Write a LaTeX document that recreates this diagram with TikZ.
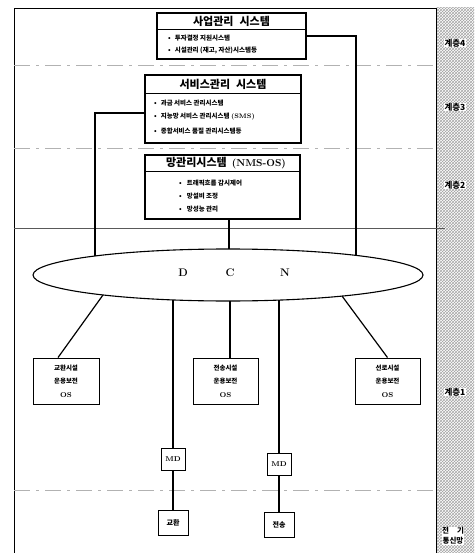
\documentclass[tikz,border=0pt]{standalone}
\usepackage{fontspec}
\newfontfamily\kr{Noto Sans CJK KR}
\usetikzlibrary{patterns,shapes.geometric}
\begin{document}
\begin{tikzpicture}[x=1pt,y=-1pt,
  sbox/.style={draw, line width=1.1pt, inner sep=0pt},
  conn/.style={line width=1.2pt},
  ttl/.style={font=\kr\bfseries\fontsize{11}{13}\selectfont, inner sep=0pt},
  itm/.style={font=\kr\bfseries\fontsize{6.5}{8}\selectfont, anchor=west, inner sep=0pt},
  sepline/.style={line width=0.8pt},
  layerline/.style={gray!60, line width=0.5pt, dash pattern=on 16pt off 6pt on 3pt off 6pt},
  lbl/.style={font=\kr\bfseries\fontsize{8.5}{10}\selectfont, inner sep=0pt},
  smallbox/.style={draw, line width=0.9pt, inner sep=0pt, align=center},
  ostext/.style={font=\kr\bfseries\fontsize{6.5}{13.5}\selectfont},
  dcnletter/.style={font=\rmfamily\bfseries\fontsize{11}{13}\selectfont, inner sep=0pt}
]
\useasboundingbox (0,0) rectangle (474,553);
% hatched strip
\fill[pattern=crosshatch, pattern color=gray!70] (436,8) rectangle (474,553);
% frame
\draw[line width=0.7pt] (14,553) -- (14,8) -- (436,8);
\draw[line width=0.6pt] (436,8) -- (436,553);
% layer separators
\draw[layerline] (14,65) -- (440,65);
\draw[layerline] (14,148) -- (440,148);
\draw[line width=0.5pt, gray!70!black] (14,228) -- (445,228);
\draw[layerline] (14,490) -- (445,490);

% layer 4 box
\node[sbox, fill=white, minimum width=149pt, minimum height=46pt] (b4) at (231.5,36) {};
\draw[sepline] (b4.west |- 0,29) -- (b4.east |- 0,29);
\node[ttl] (t4) at (231.5,21) {사업관리\hspace{6pt}시스템};
\node[itm] (i4a) at (168,38) {•\hspace{4pt}투자결정 지원시스템};
\node[itm] (i4b) at (168,50) {•\hspace{4pt}시설관리 (재고, 자산)시스템등};

% layer 3 box
\node[sbox, fill=white, minimum width=156pt, minimum height=68pt] (b3) at (223,109) {};
\draw[sepline] (b3.west |- 0,93) -- (b3.east |- 0,93);
\node[ttl] (t3) at (223,84) {서비스관리\hspace{6pt}시스템};
\node[itm] (i3a) at (154,103) {•\hspace{4pt}과금 서비스 관리시스템};
\node[itm] (i3b) at (154,117) {•\hspace{4pt}지능망 서비스 관리시스템 {\rmfamily (SMS)}};
\node[itm] (i3c) at (154,131) {•\hspace{4pt}종합서비스 품질 관리시스템등};

% layer 2 box
\node[sbox, fill=white, minimum width=155pt, minimum height=64pt] (b2) at (222.5,187) {};
\draw[sepline] (b2.west |- 0,171) -- (b2.east |- 0,171);
\node[ttl] (t2) at (226,163) {망관리시스템\hspace{5pt}{\rmfamily\fontsize{10}{12}\selectfont (NMS-OS)}};
\node[itm] (i2a) at (179,183) {•\hspace{5pt}트래픽흐름 감시제어};
\node[itm] (i2b) at (179,196) {•\hspace{5pt}망설비 조정};
\node[itm] (i2c) at (179,209) {•\hspace{5pt}망성능 관리};

% DCN ellipse
\node[draw, ellipse, fill=white, line width=1.1pt, minimum width=390pt, minimum height=52pt, inner sep=0pt] (dcn) at (228,275) {};
\node[dcnletter] (dl) at (183,273) {D};
\node[dcnletter] (cl) at (230,273) {C};
\node[dcnletter] (nl) at (285,273) {N};

% OS boxes
\node[smallbox, ostext, minimum width=66pt, minimum height=46pt] (os1) at (66,381) {교환시설\\운용보전\\{\rmfamily\bfseries\fontsize{7}{8}\selectfont OS}};
\node[smallbox, ostext, minimum width=65pt, minimum height=46pt] (os2) at (225.5,381) {전송시설\\운용보전\\{\rmfamily\bfseries\fontsize{7}{8}\selectfont OS}};
\node[smallbox, ostext, minimum width=65pt, minimum height=46pt] (os3) at (387.5,381) {선로시설\\운용보전\\{\rmfamily\bfseries\fontsize{7}{8}\selectfont OS}};

% MD and network elements
\node[smallbox, fill=white, font=\rmfamily\bfseries\fontsize{7}{8}\selectfont, minimum width=24pt, minimum height=22pt] (md1) at (173,459) {MD};
\node[smallbox, fill=white, font=\rmfamily\bfseries\fontsize{7}{8}\selectfont, minimum width=24pt, minimum height=22pt] (md2) at (279,464) {MD};
\node[smallbox, fill=white, font=\kr\bfseries\fontsize{7}{8}\selectfont, minimum width=30pt, minimum height=25pt] (sw) at (173,522.5) {교환};
\node[smallbox, fill=white, font=\kr\bfseries\fontsize{7}{8}\selectfont, minimum width=30pt, minimum height=25pt] (tr) at (279,524.5) {전송};

% connection points on the ellipse
\coordinate (e4) at (356,255);
\coordinate (e3) at (95,256);
\coordinate (e2) at (229,249);
\coordinate (f1) at (103,295);
\coordinate (f3) at (342,296);
\coordinate (f2) at (230,301);
\coordinate (fm1) at (173,300);
\coordinate (fm2) at (279,300);

% connectors
\draw[conn] (b4.east) -| (e4);
\draw[conn] ([yshift=-4pt]b3.west) -| (e3);
\draw[conn] ([xshift=6.5pt]b2.south) -- (e2);
\draw[conn] (f1) -- ([xshift=-8pt]os1.north);
\draw[conn] (f3) -- (os3.north);
\draw[conn] (f2) -- ([xshift=4.5pt]os2.north);
\draw[conn] (fm1) -- (md1.north);
\draw[conn] (md1.south) -- (sw.north);
\draw[conn] (fm2) -- (md2.north);
\draw[conn] (md2.south) -- (tr.north);

% layer labels
\node[lbl, fill=white, inner sep=0.5pt] (l4) at (455,43) {계층4};
\node[lbl, fill=white, inner sep=0.5pt] (l3) at (455,107) {계층3};
\node[lbl, fill=white, inner sep=0.5pt] (l2) at (455,185) {계층2};
\node[lbl, fill=white, inner sep=0.5pt] (l1) at (455,392) {계층1};
\node[font=\kr\bfseries\fontsize{7.5}{10}\selectfont, fill=white, inner sep=0.5pt, align=center] (l0) at (453,536) {전\hspace{8pt}기\\통신망};
\end{tikzpicture}
\end{document}
